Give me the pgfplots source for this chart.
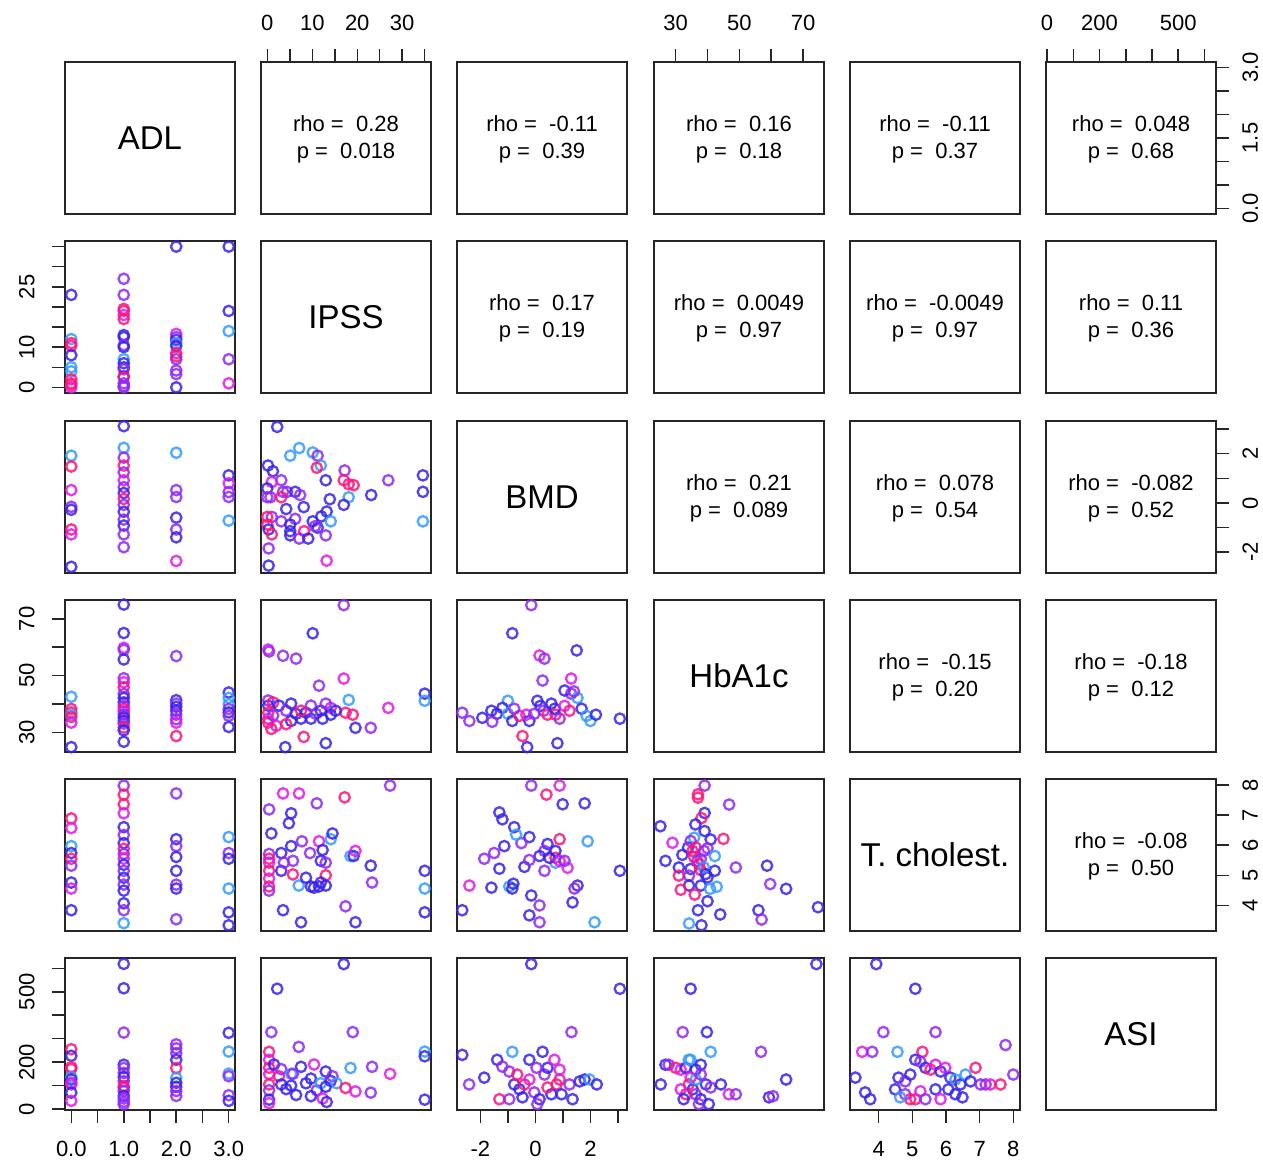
\documentclass[border=0pt]{standalone}
\usepackage{fontspec}
\setmainfont{Liberation Sans}
\usepackage{pgfplots}
\pgfplotsset{compat=1.18}

\definecolor{cR}{RGB}{255,20,120}
\definecolor{cM}{RGB}{225,25,235}
\definecolor{cV}{RGB}{145,40,245}
\definecolor{cB}{RGB}{55,35,235}
\definecolor{cC}{RGB}{50,155,255}

\newcommand\tickfont{\fontsize{11}{13}\selectfont}
\newcommand\bigfont{\fontsize{16.5}{19}\selectfont}

\pgfplotsset{
  panel/.style={scale only axis, width=85pt, height=76pt, anchor=south west,
    xtick=\empty, ytick=\empty,
    axis line style={line width=0.75pt, black!85},
    tick style={line width=0.75pt, black!85},
    major tick length=6.5pt, tick align=outside,
    xticklabel shift=9pt, yticklabel shift=8.5pt,
    ticklabel style={font=\tickfont, inner sep=0pt, text=black}},
  pts/.style={scatter, only marks, point meta=explicit symbolic, mark size=2.6pt,
    scatter/classes={
      r={mark=o, draw=cR, draw opacity=0.85},
      m={mark=o, draw=cM, draw opacity=0.85},
      v={mark=o, draw=cV, draw opacity=0.85},
      b={mark=o, draw=cB, draw opacity=0.85},
      c={mark=o, draw=cC, draw opacity=0.85}},
    mark options={line width=1.15pt}},
  % ranges
  xA/.style={xmin=-0.12, xmax=3.12}, yA/.style={ymin=-0.12, ymax=3.12},
  xI/.style={xmin=-1.4, xmax=36.4},  yI/.style={ymin=-1.4, ymax=36.4},
  xB/.style={xmin=-2.85, xmax=3.33}, yB/.style={ymin=-2.85, ymax=3.33},
  xH/.style={xmin=23.2, xmax=76.6},  yH/.style={ymin=23.2, ymax=76.6},
  xT/.style={xmin=3.15, xmax=8.2},   yT/.style={ymin=3.15, ymax=8.2},
  xS/.style={xmin=-4, xmax=644},     yS/.style={ymin=-4, ymax=644},
  % outer axes
  botA/.style={xtick={0,0.5,1,1.5,2,2.5,3}, xticklabels={0.0,,1.0,,2.0,,3.0}, xtick pos=left, xticklabel pos=left},
  botB/.style={xtick={-2,-1,0,1,2,3}, xticklabels={-2,,0,,2,}, xtick pos=left, xticklabel pos=left},
  botT/.style={xtick={4,5,6,7,8}, xticklabels={4,5,6,7,8}, xtick pos=left, xticklabel pos=left},
  topI/.style={xtick={0,5,10,15,20,25,30,35}, xticklabels={0,,10,,20,,30,}, xtick pos=right, xticklabel pos=right},
  topH/.style={xtick={30,40,50,60,70}, xticklabels={30,,50,,70}, xtick pos=right, xticklabel pos=right},
  topS/.style={xtick={0,100,200,300,400,500,600}, xticklabels={0,,200,,,500,}, xtick pos=right, xticklabel pos=right},
  lefI/.style={ytick={0,5,10,15,20,25,30,35}, yticklabels={0,,10,,,25,,}, ytick pos=left, yticklabel pos=left, yticklabel style={rotate=90, anchor=south}},
  lefH/.style={ytick={30,40,50,60,70}, yticklabels={30,,50,,70}, ytick pos=left, yticklabel pos=left, yticklabel style={rotate=90, anchor=south}},
  lefS/.style={ytick={0,100,200,300,400,500,600}, yticklabels={0,,200,,,500,}, ytick pos=left, yticklabel pos=left, yticklabel style={rotate=90, anchor=south}},
  rigA/.style={ytick={0,0.5,1,1.5,2,2.5,3}, yticklabels={0.0,,,1.5,,,3.0}, ytick pos=right, yticklabel pos=right, yticklabel shift=6.5pt, yticklabel style={rotate=90, anchor=north}},
  rigB/.style={ytick={-2,-1,0,1,2,3}, yticklabels={-2,,0,,2,}, ytick pos=right, yticklabel pos=right, yticklabel shift=6.5pt, yticklabel style={rotate=90, anchor=north}},
  rigT/.style={ytick={4,5,6,7,8}, yticklabels={4,5,6,7,8}, ytick pos=right, yticklabel pos=right, yticklabel shift=6.5pt, yticklabel style={rotate=90, anchor=north}},
}

\newcommand\diag[1]{\node[font=\bigfont] at (rel axis cs:0.5,0.5) {#1};}
\newcommand\corr[2]{\node[font=\tickfont] at (rel axis cs:0.5,0.592) {rho = \ #1};
  \node[font=\tickfont] at (rel axis cs:0.5,0.400) {p = \ #2};}

\begin{document}
\begin{tikzpicture}
\path[use as bounding box] (0,0) rectangle (631.5pt,580.5pt);

% ---------------- row 1 : ADL ----------------
\begin{axis}[panel, xA, yA, at={(32.5pt,473.5pt)}] \diag{ADL} \end{axis}
\begin{axis}[panel, xI, yA, topI, at={(130.5pt,473.5pt)}] \corr{0.28}{0.018} \end{axis}
\begin{axis}[panel, xB, yA, at={(228.5pt,473.5pt)}] \corr{-0.11}{0.39} \end{axis}
\begin{axis}[panel, xH, yA, topH, at={(327pt,473.5pt)}] \corr{0.16}{0.18} \end{axis}
\begin{axis}[panel, xT, yA, at={(425pt,473.5pt)}] \corr{-0.11}{0.37} \end{axis}
\begin{axis}[panel, xS, yA, topS, rigA, at={(523pt,473.5pt)}] \corr{0.048}{0.68} \end{axis}

% ---------------- row 2 : IPSS ----------------
\begin{axis}[panel, xA, yI, lefI, at={(32.5pt,384pt)}]
\addplot[pts] coordinates {
(0,23)[b] (0,12)[c] (0,11)[r] (0,10.3)[r] (0,8)[b] (0,5)[c] (0,4)[c] (0,2)[r] (0,1)[r] (0,0)[m] (0,0.6)[r]
(1,27)[v] (1,23)[v] (1,19.5)[r] (1,19)[r] (1,18)[m] (1,17)[r] (1,13)[b] (1,12.5)[b] (1,10.5)[v] (1,10)[b]
(1,7)[c] (1,6)[b] (1,5)[b] (1,4.5)[v] (1,2.7)[b] (1,2.5)[r] (1,1)[v] (1,0.3)[v] (1,0)[v]
(2,35)[b] (2,13.3)[m] (2,12.5)[v] (2,11.8)[b] (2,11)[c] (2,10.3)[b] (2,8.5)[r] (2,7.7)[r] (2,7)[v]
(2,4.2)[v] (2,3.3)[v] (2,0)[b]
(3,35)[b] (3,19)[b] (3,14)[c] (3,7)[v] (3,1)[m]
};
\end{axis}
\begin{axis}[panel, xI, yI, at={(130.5pt,384pt)}] \diag{IPSS} \end{axis}
\begin{axis}[panel, xB, yI, at={(228.5pt,384pt)}] \corr{0.17}{0.19} \end{axis}
\begin{axis}[panel, xH, yI, at={(327pt,384pt)}] \corr{0.0049}{0.97} \end{axis}
\begin{axis}[panel, xT, yI, at={(425pt,384pt)}] \corr{-0.0049}{0.97} \end{axis}
\begin{axis}[panel, xS, yI, at={(523pt,384pt)}] \corr{0.11}{0.36} \end{axis}

% ---------------- row 3 : BMD ----------------
\begin{axis}[panel, xA, yB, at={(32.5pt,294pt)}]
\addplot[pts] coordinates {
(0,1.92)[c] (0,1.48)[r] (0,0.52)[m] (0,-0.16)[v] (0,-0.28)[b] (0,-1.08)[r] (0,-1.28)[m] (0,-2.6)[b]
(1,3.12)[b] (1,2.24)[c] (1,1.84)[v] (1,1.52)[r] (1,1.24)[v] (1,0.92)[m] (1,0.64)[v] (1,0.4)[b] (1,0.16)[r]
(1,-0.08)[v] (1,-0.36)[b] (1,-0.68)[v] (1,-0.92)[b] (1,-1.28)[v] (1,-1.8)[v]
(2,2.04)[c] (2,0.52)[v] (2,0.24)[v] (2,-0.6)[b] (2,-1.08)[v] (2,-1.4)[b] (2,-2.36)[m]
(3,1.12)[b] (3,0.8)[m] (3,0.44)[v] (3,0.24)[v] (3,-0.72)[c]
};
\end{axis}
\begin{axis}[panel, xI, yB, at={(130.5pt,294pt)}]
\addplot[pts] coordinates {
(2.2,3.09)[b] (5.1,1.92)[c] (7.1,2.23)[c] (10.1,2.05)[c] (11.2,1.92)[v] (11.9,1.52)[c] (11,1.43)[r]
(0.15,1.52)[b] (1.25,1.29)[b] (17.2,1.32)[v] (17,0.92)[r] (18.1,0.76)[r] (19.2,0.72)[r] (13,0.92)[b]
(3.1,0.92)[v] (1.0,0.85)[m] (0,0.59)[b] (26.9,0.92)[v] (34.6,1.12)[b] (34.6,0.45)[b] (34.6,-0.75)[c]
(18.1,0.23)[c] (23.1,0.32)[b] (13.9,0.15)[b] (17,-0.08)[b] (3.5,0.45)[v] (4.4,0.45)[v] (6.2,0.45)[b]
(7.3,0.32)[v] (0.7,0.23)[v] (0,0.23)[v] (3.1,0.23)[r] (4.2,-0.25)[b] (8.1,-0.17)[b] (13.2,-0.35)[b]
(12,-0.55)[b] (14.1,-0.75)[c] (10.1,-0.75)[b] (6.2,-0.65)[v] (3.1,-0.75)[v] (1,-0.57)[v] (0,-0.57)[r]
(0,-0.88)[r] (5.1,-0.88)[b] (5.1,-1.15)[b] (8.2,-1.15)[r] (11.2,-1.01)[b] (10.6,-0.95)[v] (0.3,-1.08)[b]
(1,-1.28)[r] (5.1,-1.32)[b] (7.1,-1.45)[v] (9.1,-1.45)[b] (13,-1.32)[v] (0.3,-1.85)[v] (13.2,-2.35)[m]
(0.3,-2.55)[b]
};
\end{axis}
\begin{axis}[panel, xB, yB, at={(228.5pt,294pt)}] \diag{BMD} \end{axis}
\begin{axis}[panel, xH, yB, at={(327pt,294pt)}] \corr{0.21}{0.089} \end{axis}
\begin{axis}[panel, xT, yB, at={(425pt,294pt)}] \corr{0.078}{0.54} \end{axis}
\begin{axis}[panel, xS, yB, rigB, at={(523pt,294pt)}] \corr{-0.082}{0.52} \end{axis}

% ---------------- row 4 : HbA1c ----------------
\begin{axis}[panel, xA, yH, lefH, at={(32.5pt,204.5pt)}]
\addplot[pts] coordinates {
(0,42.6)[c] (0,38.3)[r] (0,37.1)[r] (0,36.3)[c] (0,35.5)[r] (0,33.5)[m] (0,24.9)[b]
(1,75)[b] (1,65)[b] (1,59.8)[m] (1,59.1)[v] (1,55.7)[b] (1,49.1)[v] (1,47.7)[m] (1,45.9)[r] (1,43.6)[v]
(1,42.2)[b] (1,40.6)[b] (1,39.4)[v] (1,38.3)[r] (1,37.4)[m] (1,36.3)[v] (1,35.3)[b] (1,34.1)[b]
(1,33.2)[v] (1,31.8)[r] (1,30.8)[b] (1,26.8)[b]
(2,56.9)[v] (2,41.4)[b] (2,40.2)[v] (2,39.1)[b] (2,37.7)[b] (2,36.3)[v] (2,34.7)[v] (2,33.5)[m] (2,28.8)[r]
(3,44.1)[b] (3,42.2)[c] (3,40)[c] (3,38.3)[v] (3,37.1)[b] (3,35.9)[v] (3,32)[b]
};
\end{axis}
\begin{axis}[panel, xI, yH, at={(130.5pt,204.5pt)}]
\addplot[pts] coordinates {
(0.2,59.2)[m] (0.4,58.5)[v] (3.5,57)[v] (6.4,56)[v] (10.1,64.9)[b] (17,74.8)[v] (17,49)[m] (11.5,46.5)[v]
(18.1,41.5)[c] (26.9,38.7)[m] (35,43.7)[b] (35,41.2)[c] (14.1,38.7)[m] (19,36.3)[r] (17.4,37)[r]
(19.6,31.7)[b] (23,31.7)[v] (13,26.3)[b] (4,24.9)[b] (8.1,28.5)[r]
(0.2,41.3)[v] (0.2,39.5)[b] (0.2,37)[r] (0.2,34.9)[m] (0.2,33.5)[r] (1.3,40.6)[r] (1.3,36)[v] (2.6,39.5)[b]
(4.2,37.7)[v] (5.3,40.2)[b] (5.3,34.1)[b] (6.4,36.6)[b] (7.5,34.9)[b] (8.6,37)[b] (9.7,39.5)[v]
(9.7,34.9)[b] (10.8,36.6)[v] (11.9,37.7)[b] (13,40.2)[v] (12.3,34.9)[b] (14.1,36.3)[b] (15.2,37.7)[b]
(2,32.4)[m] (0.9,31.3)[r] (4.2,33)[r] (7.5,37.7)[r]
};
\end{axis}
\begin{axis}[panel, xB, yH, at={(228.5pt,204.5pt)}]
\addplot[pts] coordinates {
(-0.15,74.8)[v] (-0.84,64.9)[b] (0.15,57.1)[m] (0.33,56)[v] (1.5,58.9)[b] (0.26,48.3)[v] (1.3,43.7)[v]
(1.06,44.8)[b] (1.53,42.2)[c] (-1.0,41.2)[c] (-1.2,38.7)[b] (-1.4,36.6)[b] (-1.6,37.7)[b] (-2.66,37)[v]
(-2.4,34.1)[v] (-1.93,35.2)[b] (-1.57,33.8)[v] (-1.0,36.6)[c] (-0.84,34.1)[b] (-0.47,28.8)[r]
(-0.3,24.9)[b] (-0.58,35.9)[r] (-0.77,38.4)[v] (0.07,41.2)[b] (0.18,39.4)[b] (0.3,37.7)[v] (0.58,40.2)[b]
(0.44,36.3)[r] (0.73,36.3)[r] (0.88,34.9)[v] (0.7,38.4)[b] (1.06,39.4)[m] (1.24,37.7)[r] (1.3,49)[m]
(1.4,44.5)[v] (1.68,38.4)[b] (1.86,35.9)[c] (2.0,34.1)[c] (2.2,36.3)[b] (3.07,34.9)[b] (0.8,26.3)[b]
(-0.22,34.1)[b] (-0.33,36.3)[m] (-0.04,36.6)[v]
};
\end{axis}
\begin{axis}[panel, xH, yH, at={(327pt,204.5pt)}] \diag{HbA1c} \end{axis}
\begin{axis}[panel, xT, yH, at={(425pt,204.5pt)}] \corr{-0.15}{0.20} \end{axis}
\begin{axis}[panel, xS, yH, at={(523pt,204.5pt)}] \corr{-0.18}{0.12} \end{axis}

% ---------------- row 5 : T. cholest. ----------------
\begin{axis}[panel, xA, yT, at={(32.5pt,115pt)}]
\addplot[pts] coordinates {
(0,6.89)[r] (0,6.57)[m] (0,5.97)[c] (0,5.74)[b] (0,5.55)[r] (0,5.32)[v] (0,4.76)[b] (0,4.56)[m] (0,3.84)[b]
(1,7.98)[v] (1,7.68)[r] (1,7.36)[r] (1,7.06)[m] (1,6.6)[b] (1,6.34)[v] (1,6.07)[b] (1,5.88)[r] (1,5.71)[v]
(1,5.55)[m] (1,5.35)[b] (1,5.15)[v] (1,4.92)[b] (1,4.69)[v] (1,4.49)[b] (1,4.07)[b] (1,3.84)[v] (1,3.41)[c]
(2,7.72)[v] (2,6.2)[b] (2,5.97)[v] (2,5.61)[b] (2,5.15)[b] (2,4.69)[v] (2,4.56)[b] (2,3.54)[v]
(3,6.27)[c] (3,5.74)[v] (3,5.55)[b] (3,4.56)[c] (3,3.77)[b] (3,3.34)[b]
};
\end{axis}
\begin{axis}[panel, xI, yT, at={(130.5pt,115pt)}]
\addplot[pts] coordinates {
(0.4,7.19)[v] (0.9,6.39)[b] (3.5,7.72)[m] (7.05,7.72)[m] (11,7.39)[v] (17.2,7.59)[r] (27.3,7.98)[v]
(5.3,7.06)[b] (4.8,6.73)[b] (7.7,6.13)[v] (0.4,5.71)[v] (0.4,5.55)[r] (0.4,5.42)[m] (0.4,5.15)[r]
(0.4,4.89)[m] (0.4,4.63)[r] (0.4,4.49)[v] (3.1,5.74)[b] (3.1,5.15)[b] (5.3,5.97)[b] (5.7,5.48)[v]
(7,4.66)[c] (8.6,4.92)[b] (9.5,5.74)[v] (11.5,6.13)[m] (11.9,5.48)[b] (13,5.0)[r] (12.3,5.84)[b]
(3.7,5.42)[v] (5.7,5.03)[r] (7.5,3.44)[b] (3.5,3.84)[b] (10.4,4.59)[b] (9.7,4.63)[b] (11.5,4.63)[b]
(11.9,4.76)[b] (13,4.66)[b] (13,5.42)[v] (14.1,6.2)[c] (14.5,6.39)[b] (17.4,3.97)[v] (19.6,3.44)[b]
(18.5,5.64)[c] (19.2,5.64)[b] (19.6,5.81)[m] (23,5.32)[b] (23.3,4.76)[v] (35,5.15)[b] (35,4.56)[c]
(35,3.77)[b]
};
\end{axis}
\begin{axis}[panel, xB, yT, at={(228.5pt,115pt)}]
\addplot[pts] coordinates {
(-0.15,7.98)[v] (0.88,7.98)[m] (0.4,7.68)[r] (-1.31,7.09)[b] (-1.2,6.86)[b] (-0.77,6.6)[b] (-0.22,6.27)[b]
(0.99,7.36)[b] (1.79,7.39)[b] (1.9,6.13)[c] (0.88,6.2)[r] (0.44,6.04)[b] (0.33,5.81)[v] (0.15,5.64)[b]
(-0.51,6.07)[v] (-1.13,5.97)[b] (-1.5,5.74)[v] (-1.86,5.55)[v] (-1.31,5.22)[b] (-1.6,4.59)[b]
(-0.95,4.63)[c] (-0.84,4.56)[b] (-0.8,4.72)[b] (-2.4,4.66)[m] (-2.66,3.84)[b] (-0.15,4.33)[b]
(0.15,4.0)[v] (0.15,3.44)[v] (-0.22,3.67)[b] (0.73,5.42)[c] (0.73,5.58)[r] (1.17,5.25)[m] (1.53,4.66)[b]
(1.42,4.56)[v] (1.35,4.1)[b] (2.15,3.44)[c] (3.07,5.15)[b] (0.33,5.15)[v] (0.51,5.58)[b] (0.73,5.81)[b]
(-0.4,5.28)[b] (-0.22,5.51)[v] (0.88,5.48)[m] (1.06,5.48)[v] (-0.7,6.35)[c]
};
\end{axis}
\begin{axis}[panel, xH, yT, at={(327pt,115pt)}]
\addplot[pts] coordinates {
(39.1,7.98)[v] (37,7.69)[r] (37,7.58)[r] (46.8,7.35)[v] (39.1,7.07)[b] (38.1,6.9)[r] (25.2,6.63)[b]
(36.2,6.69)[b] (39.1,6.47)[b] (35.8,6.25)[c] (41,6.19)[b] (45,6.21)[r] (29,6.08)[m] (33.9,5.92)[b]
(40,5.9)[v] (42.3,5.64)[c] (32.1,5.68)[b] (35.8,5.61)[r] (37.9,5.54)[v] (26.8,5.48)[b] (48.9,5.26)[v]
(58.7,5.32)[b] (31,5.26)[b] (34.7,5.21)[b] (37.9,5.17)[r] (42.3,5.15)[b] (31,4.99)[r] (34.2,4.99)[v]
(40,4.93)[b] (34.2,4.66)[b] (37.9,4.66)[b] (42.9,4.62)[c] (40.8,4.55)[c] (31.6,4.52)[r] (36,4.36)[r]
(40,4.14)[b] (59.7,4.71)[v] (64.7,4.55)[b] (37,3.84)[b] (44,3.7)[b] (56,3.84)[b] (57,3.53)[v]
(34.2,3.4)[c] (38.1,3.34)[b] (74.7,3.94)[b]
(34.7,6.14)[v] (35.3,5.81)[r] (36.8,5.48)[v] (36.3,5.92)[r] (38.9,5.81)[v] (37.3,5.37)[r] (38.9,5.26)[c]
(39.4,5.04)[b]
};
\end{axis}
\begin{axis}[panel, xT, yT, at={(425pt,115pt)}] \diag{T. cholest.} \end{axis}
\begin{axis}[panel, xS, yT, rigT, at={(523pt,115pt)}] \corr{-0.08}{0.50} \end{axis}

% ---------------- row 6 : ASI ----------------
\begin{axis}[panel, xA, yS, botA, lefS, at={(32.5pt,25.5pt)}]
\addplot[pts] coordinates {
(0,255)[r] (0,227)[b] (0,179)[r] (0,171)[r] (0,137)[c] (0,126)[b] (0,112)[v] (0,105)[m] (0,70)[b] (0,35)[m]
(1,619)[b] (1,515)[b] (1,326)[v] (1,189)[b] (1,175)[v] (1,154)[v] (1,136)[b] (1,119)[v] (1,98)[r]
(1,91)[r] (1,77)[v] (1,56)[b] (1,45)[v] (1,31)[v] (1,20)[v]
(2,276)[v] (2,259)[v] (2,238)[v] (2,210)[b] (2,175)[r] (2,133)[c] (2,112)[b] (2,95)[b] (2,77)[v] (2,56)[v]
(3,325)[b] (3,245)[c] (3,151)[c] (3,140)[v] (3,59)[v] (3,35)[b]
};
\end{axis}
\begin{axis}[panel, xI, yS, at={(130.5pt,25.5pt)}]
\addplot[pts] coordinates {
(2.2,513)[b] (17,618)[b] (0.9,328)[v] (19,328)[v] (7,265)[v]
(0.4,244)[r] (0.4,210)[m] (0.4,176)[r] (0.4,150)[m] (0.4,105)[r] (0.4,80)[v] (0.4,40)[b] (0.4,25)[m]
(1.5,190)[b] (2.6,140)[r] (3.1,170)[v] (3.1,105)[b] (4.2,85)[b] (5.3,150)[c] (5.3,100)[b] (6.4,60)[b]
(7.5,180)[b] (8.6,110)[b] (9.7,130)[b] (10.4,190)[m] (11,80)[v] (11.9,110)[c] (12.3,45)[m] (13,95)[b]
(13,160)[b] (14.1,120)[b] (14.5,140)[v] (15.4,110)[c] (13.2,30)[b] (17.4,90)[r] (19.6,75)[m]
(18.5,175)[c] (23.3,180)[v] (23,70)[v] (27.3,150)[m] (35,245)[c] (35,225)[b] (35,40)[b] (9.7,55)[b]
(5.7,150)[v]
};
\end{axis}
\begin{axis}[panel, xB, yS, botB, at={(228.5pt,25.5pt)}]
\addplot[pts] coordinates {
(-0.15,618)[b] (3.07,513)[b] (1.31,328)[v] (-2.66,231)[b] (-0.84,244)[c] (0.26,244)[b]
(-2.41,105)[v] (-1.86,134)[b] (-1.39,210)[b] (-1.2,181)[v] (-0.95,160)[v] (-0.77,105)[b] (-0.58,84)[b]
(-0.4,105)[r] (-0.22,126)[m] (-0.04,71)[v] (0.15,42)[b] (0.33,147)[v] (0.44,176)[b] (0.69,210)[m]
(0.77,105)[r] (0.88,126)[r] (0.95,63)[b] (1.24,105)[v] (1.35,42)[b] (1.61,118)[b] (1.79,126)[b]
(1.97,126)[c] (2.23,105)[b] (-1.31,42)[r] (-0.95,42)[v] (-0.66,147)[r] (-0.47,50)[b] (-0.22,210)[b]
(0.07,21)[v] (0.58,63)[b] (0.44,92)[r] (0.88,168)[m] (0.04,176)[v]
};
\end{axis}
\begin{axis}[panel, xH, yS, at={(327pt,25.5pt)}]
\addplot[pts] coordinates {
(74.2,618)[b] (34.7,513)[b] (32.2,328)[v] (39.8,328)[b] (26.8,189)[b] (25.3,105)[b] (27.8,189)[v]
(30,176)[r] (31.6,168)[m] (33.2,176)[b] (34.7,210)[c] (36.3,168)[b] (37.9,189)[b] (41,244)[c]
(34.7,134)[m] (34.1,105)[r] (35.4,84)[b] (36.3,63)[v] (37.9,42)[b] (39.5,105)[b] (40.4,21)[b]
(41,92)[v] (36.3,126)[c] (33.2,63)[r] (31.6,84)[m] (44.2,105)[b] (46.7,63)[m] (48.9,63)[v]
(56.8,244)[v] (59.3,50)[b] (60.6,55)[v] (64.7,126)[b] (37.9,147)[v] (34.1,210)[c] (32.5,42)[b]
(37.3,21)[v]
};
\end{axis}
\begin{axis}[panel, xT, yS, botT, at={(425pt,25.5pt)}]
\addplot[pts] coordinates {
(3.93,618)[b] (5.09,513)[b] (4.14,328)[v] (5.69,328)[v] (3.51,244)[m] (3.81,244)[v] (4.56,244)[c]
(5.3,244)[r] (7.77,273)[v] (3.31,134)[b] (3.6,71)[b] (3.75,42)[b] (4.59,134)[b] (4.79,118)[v]
(4.94,147)[b] (5.09,210)[b] (5.24,202)[v] (5.39,176)[b] (5.54,168)[r] (5.69,189)[m] (5.84,160)[b]
(5.98,176)[m] (6.13,134)[b] (6.28,126)[c] (6.43,105)[b] (6.58,147)[c] (6.73,118)[b] (6.88,176)[r]
(7.03,105)[v] (7.18,105)[v] (7.32,105)[m] (7.62,105)[r] (8.0,147)[v] (4.79,63)[v] (4.94,42)[r]
(5.09,42)[r] (5.24,76)[m] (5.39,42)[v] (5.69,84)[b] (5.84,42)[m] (6.07,84)[b] (6.28,63)[b] (6.49,50)[b]
(4.49,84)[b] (4.64,50)[c]
};
\end{axis}
\begin{axis}[panel, xS, yS, at={(523pt,25.5pt)}] \diag{ASI} \end{axis}

\end{tikzpicture}
\end{document}
